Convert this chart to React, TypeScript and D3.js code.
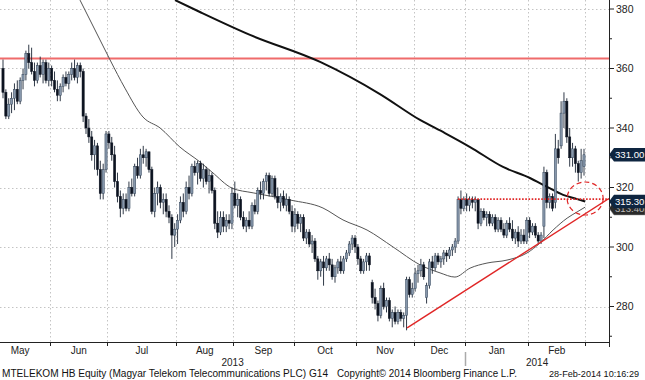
import React from 'react';
import * as d3 from 'd3';

// Daily OHLC, MTELEKOM HB, May 2013 – 28 Feb 2014
const opens = [360,352,344,348,350,353,349,356,358,365,362,359,356,361,358,362,356,360,356,353,351,354,357,355,358,360,357,361,359,344,340,337,331,334,326,318,326,338,335,331,322,317,313,316,313,320,318,327,324,331,330,332,326,312,318,320,315,316,312,310,304,306,309,315,312,320,318,327,325,328,323,326,322,324,319,308,305,310,307,309,308,318,314,316,310,307,309,307,314,312,319,318,322,324,318,323,317,315,317,314,316,312,307,311,308,310,303,305,301,302,296,292,295,293,296,294,290,293,295,292,296,298,301,303,300,296,292,295,297,288,283,281,277,286,280,282,276,278,275,278,276,277,289,284,286,291,292,294,283,287,295,293,297,295,296,298,297,299,300,302,316,313,316,314,316,315,316,308,312,310,311,308,310,306,309,306,304,308,306,303,305,302,304,302,309,305,307,304,302,307,325,315,317,315,333,334,345,349,337,330,333,328,325,327];
const highs = [363,353,350,352,355,356,357,360,366,368,367,362,362,364,363,363,362,361,359,356,355,358,359,359,362,363,362,362,360,345,343,339,336,335,329,328,339,339,337,334,325,319,318,318,322,323,328,330,333,334,333,332,327,320,322,321,318,318,314,311,308,311,317,318,322,324,328,329,329,329,328,327,326,325,320,312,312,312,311,311,320,322,318,317,312,310,312,315,316,320,322,323,325,325,324,324,320,318,319,318,317,314,313,312,311,311,306,306,304,303,297,296,297,297,298,296,294,296,297,297,299,302,304,304,301,297,296,298,298,289,286,282,287,288,283,283,279,280,279,279,278,290,290,288,293,294,296,295,288,296,297,298,298,297,299,299,300,301,303,317,319,317,318,317,317,317,316,313,313,312,312,311,311,310,310,308,309,310,309,306,307,306,306,310,310,308,308,305,305,327,326,318,318,338,336,349,352,350,340,335,334,329,333,333];
const lows = [350,343,343,345,346,348,348,353,356,360,358,354,355,357,355,355,354,354,352,349,349,352,354,353,356,356,355,357,342,338,335,329,326,324,316,316,325,333,329,320,315,310,311,312,312,317,317,323,323,328,327,325,311,310,314,313,311,310,308,296,300,301,308,310,311,316,317,324,321,322,320,321,318,318,306,303,304,305,305,306,306,313,310,309,306,305,306,306,311,311,316,316,319,317,317,316,313,312,313,312,311,305,305,306,305,302,301,300,298,295,289,290,287,292,292,289,288,291,291,291,295,297,299,298,294,291,291,292,292,281,279,275,276,279,278,275,273,274,274,275,273,272,283,283,285,288,290,289,281,286,291,292,294,293,294,295,296,297,298,301,311,312,312,312,313,312,306,307,309,307,307,307,305,305,305,303,303,305,302,301,300,301,301,301,303,304,303,301,301,303,313,313,312,313,328,333,340,335,327,327,325,322,323,324];
const closes = [352,344,348,350,353,349,356,358,365,362,359,356,361,358,362,356,360,356,353,351,354,357,355,358,360,357,361,359,344,340,337,331,334,326,318,326,338,335,331,322,317,313,316,313,320,318,327,324,331,330,332,326,312,318,320,315,316,312,310,304,306,309,315,312,320,318,327,325,328,323,326,322,324,319,308,305,310,307,309,308,318,314,316,310,307,309,307,314,312,319,318,322,324,318,323,317,315,317,314,316,312,307,311,308,310,303,305,301,302,296,292,295,293,296,294,290,293,295,292,296,298,301,303,300,296,292,295,297,294,283,281,277,286,280,282,276,278,275,278,276,277,289,284,286,291,292,294,290,287,295,293,297,295,296,298,297,299,300,302,316,313,316,314,316,315,316,308,312,310,311,308,310,306,309,306,304,308,306,303,305,302,304,302,309,305,307,304,302,304,325,315,317,313,333,330,345,349,337,330,333,328,325,329,331];

// Thin moving average (index, value)
const thinMaIdx = [26.9,33.9,37.4,42.6,48.9,54.9,61.8,68.8,73.0,80.0,87.4,100.3,111.8,118.8,127.2,136.3,145.7,152.7,157.9,163.2,169.1,176.1,183.1,187.6,192.2,197.1,200.6,203.4];
const thinMaVal = [383,369.6,362.9,353.4,343.7,340.0,333.6,328.6,325.2,319.8,318.2,315.8,313.1,309.1,305.7,300.0,294.0,291.3,289.9,292.9,294.6,295.6,298.0,301.3,305.7,309.7,311.8,313.4];
// Thick moving average
const thickMaIdx = [60.1,68.8,86.3,110.8,131.7,145.7,154.4,163.2,174.7,184.1,190.1,195.7,200.6,203.4];
const thickMaVal = [383,379,371.3,362.2,351.4,342.7,338.3,333.6,326.9,323.2,320.2,317.5,316.1,315.3];

// Annotations
const resistanceLevel = [363.4];
const supportDotted = [159, 316.1];
const trendIdx = [141.2, 211.7];
const trendVal = [272.8, 316.3];
const circleCenter = [203.4, 316.3];

const monthLabels = ["May","Jun","Jul","Aug","Sep","Oct","Nov","Dec","Jan","Feb"];
const monthBounds = [-4.5,16.5,36.5,60.5,80.5,101.5,123.5,143.5,161.5,183.5,203.5];
const yearLabels = ["2013","2014"];
const yearBound = 161.5;
const yTicks = [280,300,320,340,360,380];
const yMinorTicks = [270,290,310,330,350,370];

const footerLeft = "MTELEKOM HB Equity (Magyar Telekom Telecommunications PLC) G14";
const footerMid = "Copyright\u00A9 2014 Bloomberg Finance L.P.";
const footerRight = "28-Feb-2014 10:16:29";

const W = 645, H = 380;
const PR = 609; // right axis x
const AX = 342; // bottom axis y
const FONT = "'Liberation Sans', Arial, sans-serif";

export default function App() {
  const x = d3.scaleLinear().domain([0, 203]).range([3, 584]);
  const y = d3.scaleLinear().domain([280, 380]).range([306.5, 9]);
  const bw = 2.2;

  const thinLine = d3.line<number>().x((_, i) => x(thinMaIdx[i])).y(d => y(d)).curve(d3.curveMonotoneX)(thinMaVal) || '';
  const thickLine = d3.line<number>().x((_, i) => x(thickMaIdx[i])).y(d => y(d)).curve(d3.curveMonotoneX)(thickMaVal) || '';

  const labelPath = (yc: number) => `M${PR},${yc} L${PR + 5},${yc - 6.8} L${W},${yc - 6.8} L${W},${yc + 6.8} L${PR + 5},${yc + 6.8} Z`;
  const lastClose = closes[closes.length - 1];
  const lastThick = thickMaVal[thickMaVal.length - 1];
  const lastThin = thinMaVal[thinMaVal.length - 1];

  const gridX = monthBounds.filter(b => x(b) > 0 && x(b) < PR);
  const yb = x(yearBound);

  return (
    <svg width={W} height={H} style={{ position: 'absolute', left: 0, top: 0, background: '#fff' }}>
      <defs>
        <clipPath id="plot"><rect x={0} y={0} width={PR} height={AX} /></clipPath>
      </defs>
      <rect x={0} y={0} width={W} height={H} fill="#fff" />
      {/* grid */}
      <g stroke="#c4c4c4" strokeWidth={1} strokeDasharray="1.5,2.5">
        {yTicks.map(t => <line key={'gy' + t} x1={0} x2={PR} y1={Math.round(y(t)) + 0.5} y2={Math.round(y(t)) + 0.5} />)}
        {gridX.map(b => <line key={'gx' + b} x1={Math.round(x(b)) + 0.5} x2={Math.round(x(b)) + 0.5} y1={0} y2={AX} />)}
      </g>
      <g clipPath="url(#plot)">
        <line x1={0} x2={PR} y1={y(resistanceLevel[0])} y2={y(resistanceLevel[0])} stroke="#ef6b6b" strokeWidth={2} />
        <path d={thinLine} fill="none" stroke="#555" strokeWidth={1} />
        <path d={thickLine} fill="none" stroke="#111" strokeWidth={2} />
        {closes.map((c, i) => {
          const o = opens[i];
          const up = c >= o;
          const cx = x(i);
          const top = y(Math.max(o, c));
          const bot = y(Math.min(o, c));
          return (
            <g key={i}>
              <line x1={cx} x2={cx} y1={y(highs[i])} y2={y(lows[i])} stroke="#1a2433" strokeWidth={0.9} />
              <rect x={cx - bw / 2} y={top} width={bw} height={Math.max(1, bot - top)}
                fill={up ? '#8797ab' : '#0c1320'} stroke={up ? '#33455a' : '#0c1320'} strokeWidth={0.5} />
            </g>
          );
        })}
        <line x1={x(trendIdx[0])} y1={y(trendVal[0])} x2={x(trendIdx[1])} y2={y(trendVal[1])} stroke="#e02626" strokeWidth={1.4} />
        <line x1={x(supportDotted[0])} x2={PR} y1={y(supportDotted[1])} y2={y(supportDotted[1])} stroke="#e02626" strokeWidth={1.6} strokeDasharray="1.6,1.6" />
        <ellipse cx={x(circleCenter[0])} cy={y(circleCenter[1])} rx={18} ry={16.5} fill="none" stroke="#e02626" strokeWidth={1.2} strokeDasharray="5,3" />
      </g>
      {/* axes */}
      <line x1={PR + 0.5} x2={PR + 0.5} y1={0} y2={AX + 5} stroke="#222" strokeWidth={1} />
      <line x1={0} x2={PR} y1={AX + 0.5} y2={AX + 0.5} stroke="#222" strokeWidth={1} />
      {yTicks.map(t => <line key={'t' + t} x1={PR} x2={PR + 5} y1={y(t)} y2={y(t)} stroke="#222" />)}
      {yMinorTicks.map(t => <line key={'m' + t} x1={PR} x2={PR + 3} y1={y(t)} y2={y(t)} stroke="#222" />)}
      {yTicks.map(t => (
        <text key={'l' + t} x={PR + 7} y={y(t)} dy="0.35em" fontFamily={FONT} fontSize={10.5} fill="#222">{t}</text>
      ))}
      {monthBounds.map(b => <line key={'mt' + b} x1={Math.round(x(b)) + 0.5} x2={Math.round(x(b)) + 0.5} y1={AX} y2={AX + 4} stroke="#222" />)}
      {monthLabels.map((m, i) => (
        <text key={m} x={(x(monthBounds[i]) + x(monthBounds[i + 1])) / 2} y={354} textAnchor="middle" fontFamily={FONT} fontSize={10} fill="#222">{m}</text>
      ))}
      <line x1={Math.round(yb) + 0.5} x2={Math.round(yb) + 0.5} y1={AX + 10} y2={AX + 24} stroke="#aaa" strokeWidth={1.5} />
      <text x={(0 + yb) / 2} y={366} textAnchor="middle" fontFamily={FONT} fontSize={10} fill="#222">{yearLabels[0]}</text>
      <text x={(yb + PR) / 2} y={366} textAnchor="middle" fontFamily={FONT} fontSize={10} fill="#222">{yearLabels[1]}</text>
      {/* value labels */}
      <path d={labelPath(y(lastThin) + 1)} fill="#2a2a2a" stroke="#888" strokeWidth={0.5} />
      <text x={PR + 6} y={y(lastThin) + 1} dy="0.38em" fontFamily={FONT} fontSize={9.6} fill="#bbb">{lastThin.toFixed(2)}</text>
      <path d={labelPath(y(lastThick))} fill="#0e2540" />
      <text x={PR + 6} y={y(lastThick)} dy="0.36em" fontFamily={FONT} fontSize={9.6} fill="#fff">{lastThick.toFixed(2)}</text>
      <path d={labelPath(y(lastClose))} fill="#0e2540" />
      <text x={PR + 6} y={y(lastClose)} dy="0.36em" fontFamily={FONT} fontSize={9.6} fill="#fff">{lastClose.toFixed(2)}</text>
      {/* footer */}
      <text x={2} y={377} fontFamily={FONT} fontSize={10} fill="#111" textLength={326} lengthAdjust="spacingAndGlyphs">{footerLeft}</text>
      <text x={337} y={377} fontFamily={FONT} fontSize={10} fill="#111" textLength={180} lengthAdjust="spacingAndGlyphs">{footerMid}</text>
      <text x={549} y={377} fontFamily={FONT} fontSize={9.6} fill="#111" textLength={90} lengthAdjust="spacingAndGlyphs">{footerRight}</text>
    </svg>
  );
}
